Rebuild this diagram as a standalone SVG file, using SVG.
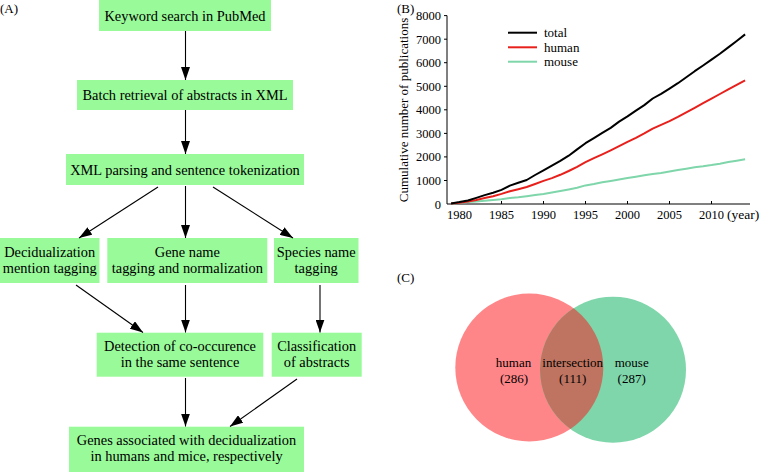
<svg xmlns="http://www.w3.org/2000/svg" width="763" height="472" viewBox="0 0 763 472" font-family="'Liberation Serif', 'DejaVu Serif', serif">
<defs>
<style>
text{font-family:'Liberation Serif','DejaVu Serif',serif;fill:#000}
.box{fill:#99fa99;stroke:none}
.ft{font-size:14.4px;text-anchor:middle}
.lbl{font-size:13px}
.tk{font-size:12.5px}
.conn line{stroke:#000;stroke-width:1.1;marker-end:url(#ah)}
.axis{stroke:#000;stroke-width:1;fill:none}
.curve{fill:none;stroke-width:2;stroke-linejoin:round}
.vt{font-size:13px;text-anchor:middle}
</style>
<marker id="ah" markerUnits="userSpaceOnUse" markerWidth="13" markerHeight="9" refX="13" refY="4.5" orient="auto">
<path d="M0,0 L13,4.5 L0,9 z" fill="#000"/>
</marker>
<clipPath id="redclip"><circle cx="529.3" cy="367.5" r="74"/></clipPath>
</defs>
<rect width="763" height="472" fill="#fff"/>

<text class="lbl" x="0" y="13">(A)</text>
<text class="lbl" x="397" y="13">(B)</text>
<text class="lbl" x="397" y="282">(C)</text>

<g id="n1"><rect class="box" x="99" y="0" width="172" height="31"/><text class="ft" x="185" y="20.5">Keyword search in PubMed</text></g>
<g id="n2"><rect class="box" x="77" y="80" width="216" height="30"/><text class="ft" x="185" y="100">Batch retrieval of abstracts in XML</text></g>
<g id="n3"><rect class="box" x="66" y="154" width="238" height="31"/><text class="ft" x="185" y="174.5">XML parsing and sentence tokenization</text></g>
<g id="n4"><rect class="box" x="0" y="238" width="99.5" height="45"/><text class="ft" x="49.7" y="257">Decidualization</text><text class="ft" x="49.7" y="273">mention tagging</text></g>
<g id="n5"><rect class="box" x="107.3" y="238" width="160" height="45"/><text class="ft" x="187.3" y="257">Gene name</text><text class="ft" x="187.3" y="273">tagging and normalization</text></g>
<g id="n6"><rect class="box" x="274" y="238" width="84.5" height="45"/><text class="ft" x="316.2" y="257">Species name</text><text class="ft" x="316.2" y="273">tagging</text></g>
<g id="n7"><rect class="box" x="96.7" y="332.7" width="166.6" height="44"/><text class="ft" x="180" y="350.7">Detection of co-occurence</text><text class="ft" x="180" y="366.5">in the same sentence</text></g>
<g id="n8"><rect class="box" x="271.7" y="332.7" width="90" height="44"/><text class="ft" x="316.7" y="350.7">Classification</text><text class="ft" x="316.7" y="366.5">of abstracts</text></g>
<g id="n9"><rect class="box" x="69" y="426.7" width="235" height="45.3"/><text class="ft" x="186.5" y="444.5">Genes associated with decidualization</text><text class="ft" x="186.5" y="460.5">in humans and mice, respectively</text></g>

<g id="connectors" class="conn">
<line x1="185.5" y1="31" x2="185.5" y2="80"/>
<line x1="185.5" y1="110" x2="185.5" y2="154"/>
<line x1="158" y1="187" x2="79" y2="238"/>
<line x1="185.5" y1="186" x2="185.5" y2="238"/>
<line x1="213" y1="187" x2="293" y2="238"/>
<line x1="76" y1="285" x2="143" y2="332.5"/>
<line x1="185.5" y1="285" x2="185.5" y2="332.5"/>
<line x1="320" y1="285" x2="320" y2="332.5"/>
<line x1="185.5" y1="378" x2="185.5" y2="426.5"/>
<line x1="297" y1="379" x2="230" y2="426.5"/>
</g>

<g id="chart">
<path class="axis" d="M444,15.6 H447 V204 H750"/>
<path class="axis" d="M444,39.2 H447 M444,62.7 H447 M444,86.3 H447 M444,109.8 H447 M444,133.4 H447 M444,156.9 H447 M444,180.5 H447"/>
<path class="axis" d="M459.5,204 V201 M501.5,204 V201 M543.5,204 V201 M585.5,204 V201 M627.5,204 V201 M669.5,204 V201 M711.5,204 V201"/>
<g class="tk" text-anchor="end">
<text x="441" y="208.5">0</text>
<text x="441" y="185">1000</text>
<text x="441" y="161.4">2000</text>
<text x="441" y="137.9">3000</text>
<text x="441" y="114.3">4000</text>
<text x="441" y="90.8">5000</text>
<text x="441" y="67.2">6000</text>
<text x="441" y="43.7">7000</text>
<text x="441" y="20.1">8000</text>
</g>
<g class="tk" text-anchor="middle">
<text x="459.5" y="219">1980</text>
<text x="501.5" y="219">1985</text>
<text x="543.5" y="219">1990</text>
<text x="585.5" y="219">1995</text>
<text x="627.5" y="219">2000</text>
<text x="669.5" y="219">2005</text>
<text x="711.5" y="219">2010</text>
</g>
<text x="727" y="219" font-size="13.5px">(year)</text>
<text class="lbl" text-anchor="middle" transform="translate(407.5,110) rotate(-90)">Cumulative number of publications</text>

<polyline class="curve" stroke="#7fd6aa" points="451.1,203.8 459.5,202.8 467.9,202.1 476.3,201.4 484.7,200.7 493.1,200 501.5,199.3 509.9,197.9 518.3,197.2 526.7,196.2 535.1,195.1 543.5,193.9 551.9,192.5 560.3,191 568.7,189.4 577.1,187.8 585.5,185.4 593.9,184 602.3,182.3 610.7,180.9 619.1,179.5 627.5,178.1 635.9,176.7 644.3,175.3 652.7,173.9 661.1,172.9 669.5,171.5 677.9,170.1 686.3,168.7 694.7,167.3 703.1,166.3 711.5,165.1 719.9,163.7 728.3,162.1 736.7,160.7 745.1,159.3"/>
<polyline class="curve" stroke="#e8201c" points="451.1,203.6 459.5,202.8 467.9,201.6 476.3,200 484.7,198.1 493.1,196.2 501.5,193.9 509.9,191.3 518.3,189.2 526.7,187 535.1,184 543.5,180.9 551.9,178.1 560.3,174.8 568.7,171 577.1,166.8 585.5,162.1 593.9,158.1 602.3,154.3 610.7,150.3 619.1,146.1 627.5,141.8 635.9,137.8 644.3,133.4 652.7,128.6 661.1,124.9 669.5,121.1 677.9,116.9 686.3,112.4 694.7,107.9 703.1,103.2 711.5,98.7 719.9,94 728.3,89.3 736.7,84.8 745.1,80.4"/>
<polyline class="curve" stroke="#000" points="451.1,203.5 459.5,202.1 467.9,200.5 476.3,197.9 484.7,195.1 493.1,192.7 501.5,189.9 509.9,185.6 518.3,182.8 526.7,180 535.1,175 543.5,170.3 551.9,165.6 560.3,160.9 568.7,155.7 577.1,149.4 585.5,143.2 593.9,138.1 602.3,132.9 610.7,127.9 619.1,121.6 627.5,116.4 635.9,110.7 644.3,105.1 652.7,98.5 661.1,93.8 669.5,88.6 677.9,83.2 686.3,77.3 694.7,71.2 703.1,65.5 711.5,59.6 719.9,53.8 728.3,47.4 736.7,41 745.1,34.4"/>

<g id="legend">
<line x1="508" y1="32.7" x2="537" y2="32.7" stroke="#000" stroke-width="2"/>
<line x1="508" y1="47.3" x2="537" y2="47.3" stroke="#e8201c" stroke-width="2"/>
<line x1="508" y1="61.7" x2="537" y2="61.7" stroke="#7fd6aa" stroke-width="2"/>
<text class="lbl" x="544" y="37">total</text>
<text class="lbl" x="544" y="51.6">human</text>
<text class="lbl" x="544" y="66">mouse</text>
</g>
</g>

<g id="venn">
<circle id="human" cx="529.3" cy="367.5" r="74" fill="#ff8688"/>
<circle id="mouse" cx="613" cy="369.7" r="73" fill="#7fd6aa"/>
<circle id="intersection" cx="613" cy="369.7" r="73" fill="#bf7461" clip-path="url(#redclip)"/>
<text class="vt" x="513.5" y="366.7">human</text>
<text class="vt" x="514" y="382.7">(286)</text>
<text class="vt" x="572.7" y="366.7">intersection</text>
<text class="vt" x="572.7" y="382.7">(111)</text>
<text class="vt" x="631.7" y="366.7">mouse</text>
<text class="vt" x="631.7" y="382.7">(287)</text>
</g>
</svg>
